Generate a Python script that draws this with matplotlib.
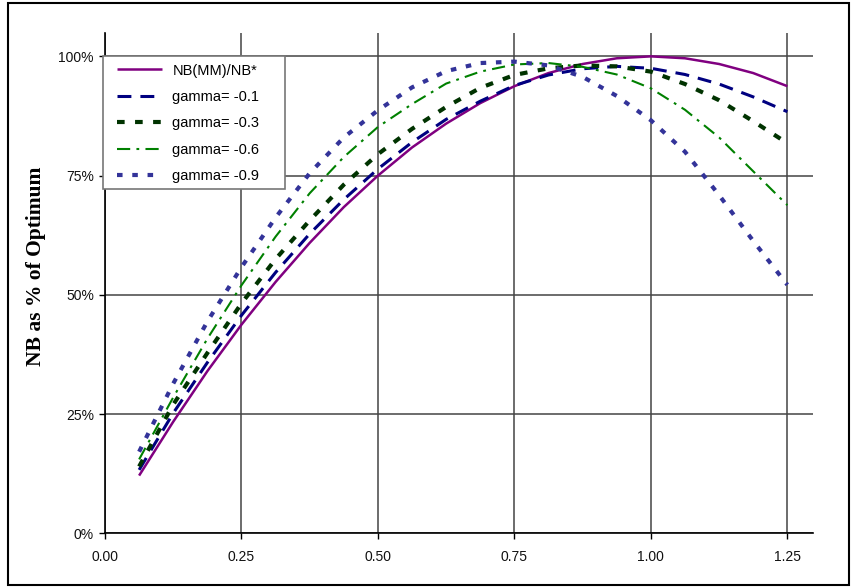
import matplotlib
matplotlib.use("Agg")
import matplotlib.pyplot as plt
from matplotlib.patches import Rectangle

plt.rcParams['font.family'] = ['Liberation Sans', 'DejaVu Sans']
plt.rcParams['lines.scale_dashes'] = False

# ---- data ----
x_vals = [0.0625, 0.125, 0.1875, 0.25, 0.3125, 0.375, 0.4375, 0.5, 0.5625, 0.625,
          0.6875, 0.75, 0.8125, 0.875, 0.9375, 1.0, 1.0625, 1.125, 1.1875, 1.25]

nb_mm = [0.121, 0.234, 0.340, 0.4375, 0.527, 0.609, 0.684, 0.750, 0.809, 0.859,
         0.902, 0.9375, 0.965, 0.984, 0.996, 1.000, 0.996, 0.984, 0.965, 0.9375]
gamma_01 = [0.133, 0.252, 0.358, 0.457, 0.547, 0.628, 0.700, 0.764, 0.820, 0.868,
            0.906, 0.939, 0.961, 0.974, 0.979, 0.975, 0.962, 0.942, 0.915, 0.884]
gamma_03 = [0.140, 0.270, 0.378, 0.482, 0.575, 0.656, 0.731, 0.795, 0.848, 0.894,
            0.934, 0.961, 0.975, 0.981, 0.979, 0.968, 0.942, 0.908, 0.864, 0.818]
gamma_06 = [0.155, 0.285, 0.408, 0.520, 0.622, 0.713, 0.789, 0.852, 0.900, 0.943,
            0.968, 0.983, 0.986, 0.978, 0.962, 0.933, 0.888, 0.830, 0.759, 0.688]
gamma_09 = [0.171, 0.314, 0.444, 0.558, 0.662, 0.755, 0.830, 0.887, 0.935, 0.969,
            0.986, 0.989, 0.981, 0.957, 0.917, 0.866, 0.800, 0.709, 0.613, 0.521]

series_labels = ['NB(MM)/NB*', 'gamma= -0.1', 'gamma= -0.3', 'gamma= -0.6', 'gamma= -0.9']
x_ticks = [0.0, 0.25, 0.5, 0.75, 1.0, 1.25]
x_tick_labels = ['0.00', '0.25', '0.50', '0.75', '1.00', '1.25']
y_ticks = [0.0, 0.25, 0.5, 0.75, 1.0]
y_tick_labels = ['0%', '25%', '50%', '75%', '100%']

# ---- figure ----
W, H = 852, 588
Y0, Y1 = 533.3, 33.0   # pixel rows of the axes bottom / top
X0, X1 = 105.0, 813.0
fig = plt.figure(figsize=(W / 100, H / 100), dpi=100)
ax = fig.add_axes([X0 / W, (H - Y0) / H, (X1 - X0) / W, (Y0 - Y1) / H])


def ax_xy(px, py):
    return (px - X0) / (X1 - X0), (Y0 - py) / (Y0 - Y1)


styles = [
    dict(color='#800080', lw=1.8, ls='-'),
    dict(color='#000080', lw=2.2, ls=(0, (10, 6.5))),
    dict(color='#003300', lw=3.0, ls=(0, (5.5, 7.5))),
    dict(color='#008000', lw=1.5, ls=(0, (9.5, 4.5, 2, 4.5))),
    dict(color='#333399', lw=3.0, ls=(0, (4, 7))),
]
all_series = [nb_mm, gamma_01, gamma_03, gamma_06, gamma_09]
for ys, lab, st in zip(all_series, series_labels, styles):
    ax.plot(x_vals, ys, label=lab, color=st['color'], lw=st['lw'],
            linestyle=st['ls'], solid_capstyle='butt', dash_capstyle='butt', zorder=3)

ax.set_xlim(0, 1.297)
ax.set_ylim(0, 1.049)
ax.set_xticks(x_ticks)
ax.set_xticklabels(x_tick_labels)
ax.set_yticks(y_ticks)
ax.set_yticklabels(y_tick_labels)
ax.tick_params(axis='both', direction='out', length=4, width=1, color='black',
               labelsize=10, labelcolor='#111111', pad=4)
ax.tick_params(axis='x', pad=8)

for s in ['top', 'right']:
    ax.spines[s].set_visible(False)
for s in ['left', 'bottom']:
    ax.spines[s].set_color('black')
    ax.spines[s].set_linewidth(1.2)

ax.grid(True, color='#444444', lw=1.1, zorder=1)
ax.set_axisbelow(True)

# y-axis title placed at its pixel position
fig.text(36 / W, (H - 266) / H, 'NB as % of Optimum',
         family=['Liberation Serif', 'DejaVu Serif'], fontweight='bold', fontsize=15.5,
         rotation=90, ha='center', va='center')

# legend box (drawn as a rectangle) and entries without frame
bx0, by0 = ax_xy(103, 189)
bx1, by1 = ax_xy(285, 56)
ax.add_patch(Rectangle((bx0, by0), bx1 - bx0, by1 - by0, transform=ax.transAxes,
                       facecolor='white', edgecolor='#777777', lw=1.2, zorder=4,
                       clip_on=False))
lx, ly = ax_xy(117, 63.5)
leg = ax.legend(loc='upper left', bbox_to_anchor=(lx, ly), borderaxespad=0,
                borderpad=0, fontsize=10.5, handlelength=3.1, labelspacing=0.85,
                handletextpad=0.7, frameon=False)
leg.set_zorder(5)

# outer chart border
fig.patches.append(Rectangle((8 / W, (H - 585) / H), (849 - 8) / W, (585 - 3) / H,
                             transform=fig.transFigure, fill=False, edgecolor='black',
                             lw=1.5, zorder=0))

fig.savefig('out.png', dpi=100)
